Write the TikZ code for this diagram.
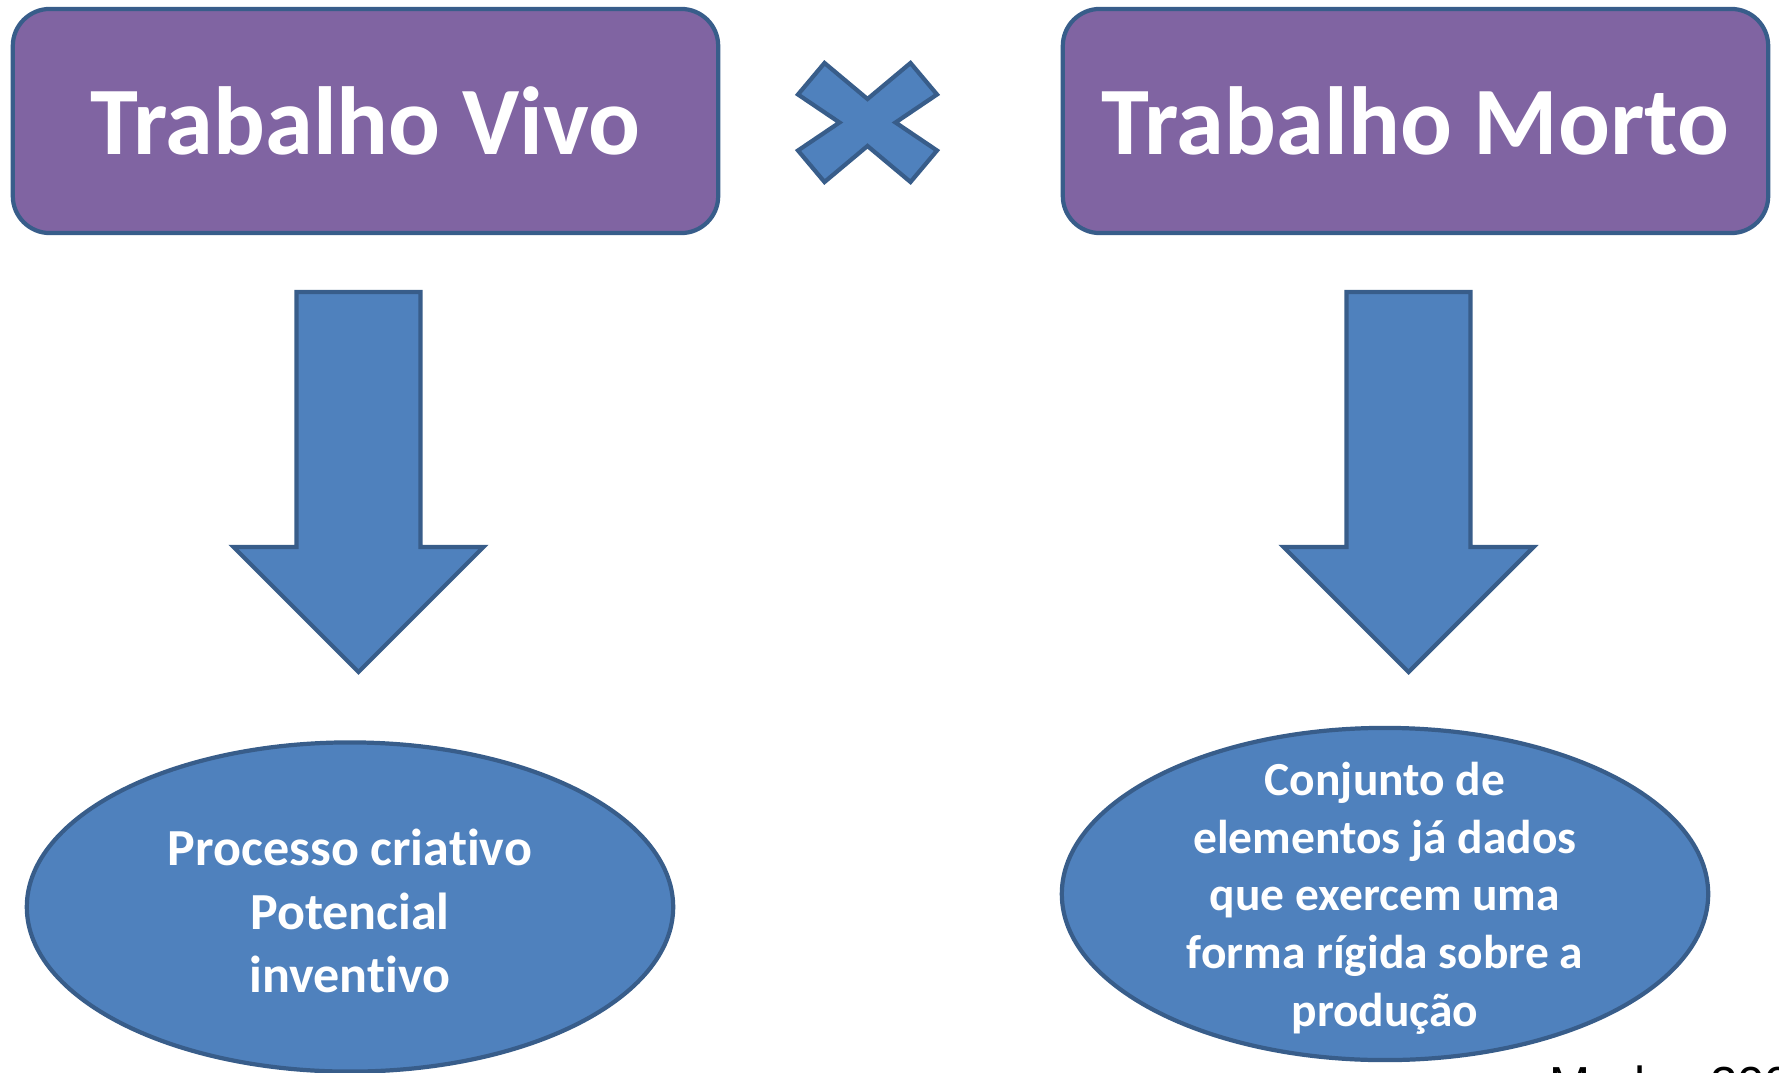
\documentclass[tikz,border=0pt]{standalone}
\usepackage{fontspec}
\setmainfont[Ligatures=NoCommon]{Carlito}
\newfontfamily\citefont{Liberation Sans}
\usepackage{tikz}
\usetikzlibrary{shapes.geometric}
\definecolor{boxpurple}{HTML}{8064A2}
\definecolor{shapeblue}{HTML}{4F81BD}
\definecolor{edgeblue}{HTML}{385D8A}

\begin{document}
\begin{tikzpicture}[x=0.01cm,y=-0.01cm,
    titlebox/.style={draw=edgeblue,line width=1.2pt,fill=boxpurple,rounded corners=0.37cm,
        minimum width=7.05cm,minimum height=2.24cm,inner sep=0pt,text=white,
        font=\bfseries\fontsize{27.5}{33}\selectfont},
    blob/.style={ellipse,draw=edgeblue,line width=1.2pt,fill=shapeblue,inner sep=0pt,
        minimum width=6.46cm},
    blobtext/.style={text=white,align=center,inner sep=0pt},
    blockarrow/.style={draw=edgeblue,line width=1.2pt,fill=shapeblue,line join=miter}]
    \useasboundingbox (0,0) rectangle (1779,1073);
    \node[titlebox] at (365.5,121) (vivo) {Trabalho Vivo};
    \node[titlebox] at (1415.5,121) (morto) {Trabalho Morto};
    \node[blob,minimum height=3.29cm] at (350,907) (criativo) {};
    \node[blobtext,font=\bfseries\fontsize{14.8}{18.1}\selectfont] at ([yshift=-0.04cm]criativo.center) (criativotext)
        {Processo criativo\\Potencial\\inventivo};
    \node[blob,minimum height=3.32cm] at (1385,894) (dados) {};
    \node[blobtext,font=\bfseries\fontsize{13.5}{16.4}\selectfont] at ([yshift=-0.04cm]dados.center) (dadostext)
        {Conjunto de\\elementos já dados\\que exercem uma\\forma rígida sobre a\\produção};
    \node[anchor=base west,inner sep=0pt,font=\citefont\fontsize{14}{17}\selectfont] at (1549,1101) (merhy)
        {Merhy, 2002};
    % the cross between the two boxes
    \coordinate (versus) at (867.5,122.5);
    \draw[blockarrow] (versus) ++(-43,-59.5) -- ++(43,36) -- ++(43,-36) -- ++(26.5,31.5)
        -- ++(-41.5,28) -- ++(41.5,28) -- ++(-26.5,31.5) -- ++(-43,-36) -- ++(-43,36)
        -- ++(-26.5,-31.5) -- ++(41.5,-28) -- ++(-41.5,-28) -- cycle;
    % block arrows
    \foreach \ax in {358.5,1408.5}
        \draw[blockarrow] (\ax-62,292) -- (\ax+62,292) -- (\ax+62,547) -- (\ax+125,547)
            -- (\ax,672) -- (\ax-125,547) -- (\ax-62,547) -- cycle;
\end{tikzpicture}
\end{document}
